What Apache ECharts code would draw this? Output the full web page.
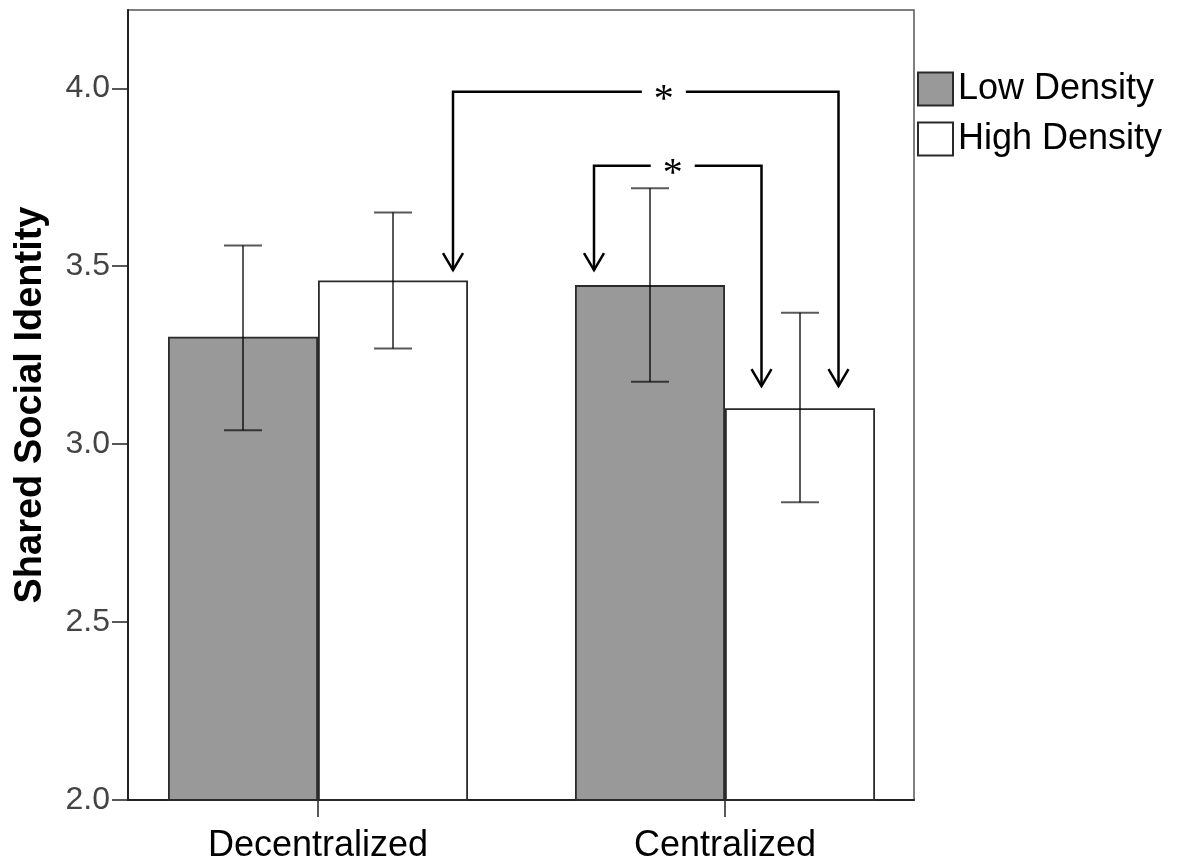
<!DOCTYPE html>
<html>
<head>
<meta charset="utf-8">
<script src="https://cdn.jsdelivr.net/npm/echarts@6/dist/echarts.min.js"></script>
<style>
  html, body { margin: 0; padding: 0; background: #fff; }
  #chart { width: 1178px; height: 860px; }
</style>
</head>
<body>
<div id="chart"></div>
<script>
// ---------- data ----------
const categories = ['Decentralized', 'Centralized'];
const seriesNames = ['Low Density', 'High Density'];
const lowMeans = [3.302, 3.447];
const highMeans = [3.460, 3.101];
const lowCI = [[3.039, 3.558], [3.175, 3.719]];
const highCI = [[3.269, 3.651], [2.837, 3.369]];
const yTicks = [2.0, 2.5, 3.0, 3.5, 4.0];
const yMin = 2.0;
const yMax = 4.22;
const yAxisTitle = 'Shared Social Identity';
// significance comparisons: from / to bar (category index, series index), bracket level and arrow tip values
const comparisons = [
  { fromCat: 0, fromSer: 1, toCat: 1, toSer: 1, level: 3.99, fromTip: 3.489, toTip: 3.163, label: '*' },
  { fromCat: 1, fromSer: 0, toCat: 1, toSer: 1, level: 3.782, fromTip: 3.489, toTip: 3.163, label: '*' }
];

// ---------- layout / style ----------
const BAR_W = 150;
const arrowDx = [[60, 38.5], [-56, -38.5]];
const labelFrac = [0.547, 0.47];
const FONT = '"Liberation Sans", Arial, sans-serif';

const chart = echarts.init(document.getElementById('chart'), null, { renderer: 'canvas' });

function errorSeries(name, ci, sign) {
  return {
    type: 'custom',
    name: name + ' CI',
    xAxisIndex: 1, yAxisIndex: 1,
    z: 10,
    silent: true,
    data: ci.map((d, i) => [i, d[0], d[1]]),
    renderItem: function (params, api) {
      const lo = api.coord([api.value(0), api.value(1)]);
      const hi = api.coord([api.value(0), api.value(2)]);
      const x = lo[0] + sign * BAR_W / 2;
      const cap = 19;
      const style = { stroke: 'rgba(0,0,0,0.65)', lineWidth: 2 };
      return {
        type: 'group',
        children: [
          { type: 'line', shape: { x1: x, y1: hi[1], x2: x, y2: lo[1] }, style: style },
          { type: 'line', shape: { x1: x - cap, y1: hi[1], x2: x + cap, y2: hi[1] }, style: style },
          { type: 'line', shape: { x1: x - cap, y1: lo[1], x2: x + cap, y2: lo[1] }, style: style }
        ]
      };
    }
  };
}

const option = {
  animation: false,
  backgroundColor: '#fff',
  grid: [
    { left: 128, right: 264, top: 10, bottom: 60, show: true, borderColor: '#555', borderWidth: 1.5,
      backgroundColor: 'transparent', outerBoundsMode: 'none', containLabel: false },
    { left: 114.5, right: 249.5, top: 10, bottom: 60, outerBoundsMode: 'none', containLabel: false }
  ],
  legend: {
    data: seriesNames,
    orient: 'vertical',
    left: 912, top: 66,
    itemWidth: 35, itemHeight: 33, itemGap: 14,
    icon: 'rect',
    textStyle: { fontSize: 36, color: '#000', fontFamily: FONT, padding: [4, 0, 0, 0] }
  },
  xAxis: [
    {
      type: 'category', gridIndex: 0, data: categories,
      axisLine: { show: true, lineStyle: { color: '#222', width: 2 } },
      axisTick: { show: false }, axisLabel: { show: false }
    },
    {
      type: 'category', gridIndex: 1, data: categories,
      axisLine: { show: false },
      axisTick: { show: true, alignWithLabel: true, length: 17, lineStyle: { color: '#222', width: 1.5 } },
      axisLabel: { fontSize: 36, color: '#000', fontFamily: FONT, margin: 28 }
    }
  ],
  yAxis: [
    {
      type: 'value', gridIndex: 0, min: yMin, max: yMax, interval: 0.5,
      axisLine: { show: true, lineStyle: { color: '#222', width: 2 } },
      axisTick: { show: true, length: 16, customValues: yTicks, lineStyle: { color: '#222', width: 1.5 } },
      axisLabel: { customValues: yTicks, fontSize: 32, color: '#444', fontFamily: FONT, margin: 18,
        formatter: v => v.toFixed(1) },
      splitLine: { show: false },
      name: yAxisTitle, nameLocation: 'middle', nameRotate: 90, nameGap: 78,
      nameTextStyle: { fontSize: 38, fontWeight: 'bold', color: '#000', fontFamily: FONT }
    },
    {
      type: 'value', gridIndex: 1, min: yMin, max: yMax, show: false, splitLine: { show: false }
    }
  ],
  series: [
    {
      name: seriesNames[0], type: 'bar', xAxisIndex: 1, yAxisIndex: 1,
      data: lowMeans, barWidth: BAR_W, barGap: '0%',
      itemStyle: { color: '#999999', borderColor: '#2a2a2a', borderWidth: 1.8 }
    },
    {
      name: seriesNames[1], type: 'bar', xAxisIndex: 1, yAxisIndex: 1,
      data: highMeans, barWidth: BAR_W, barGap: '0%',
      itemStyle: { color: '#ffffff', borderColor: '#2a2a2a', borderWidth: 1.8 }
    },
    errorSeries(seriesNames[0], lowCI, -1),
    errorSeries(seriesNames[1], highCI, 1)
  ]
};
chart.setOption(option);

// ---------- significance brackets ----------
function barX(cat, ser) {
  const p = chart.convertToPixel({ xAxisIndex: 1, yAxisIndex: 1 }, [cat, yMin]);
  return p[0] + (ser === 0 ? -1 : 1) * BAR_W / 2;
}
function yPx(v) {
  return chart.convertToPixel({ xAxisIndex: 1, yAxisIndex: 1 }, [0, v])[1];
}
const lineStyle = { stroke: '#000', lineWidth: 2.5, fill: null };
const graphics = [];
comparisons.forEach((c, i) => {
  const x1 = barX(c.fromCat, c.fromSer) + arrowDx[i][0];
  const x2 = barX(c.toCat, c.toSer) + arrowDx[i][1];
  const yL = yPx(c.level);
  const t1 = yPx(c.fromTip);
  const t2 = yPx(c.toTip);
  const lx = x1 + (x2 - x1) * labelFrac[i];
  const gap = 22;
  graphics.push(
    { type: 'polyline', shape: { points: [[lx - gap, yL], [x1, yL], [x1, t1]] }, style: lineStyle, z: 20 },
    { type: 'polyline', shape: { points: [[lx + gap, yL], [x2, yL], [x2, t2]] }, style: lineStyle, z: 20 },
    { type: 'polyline', shape: { points: [[x1 - 10, t1 - 17], [x1, t1], [x1 + 10, t1 - 17]] }, style: lineStyle, z: 20 },
    { type: 'polyline', shape: { points: [[x2 - 10, t2 - 17], [x2, t2], [x2 + 10, t2 - 17]] }, style: lineStyle, z: 20 },
    { type: 'text', x: lx, y: yL + 9, z: 20,
      style: { text: c.label, fontSize: 40, fontFamily: '"Liberation Serif", serif', fill: '#000',
        align: 'center', verticalAlign: 'middle' } }
  );
});
chart.setOption({ graphic: graphics });
</script>
</body>
</html>
